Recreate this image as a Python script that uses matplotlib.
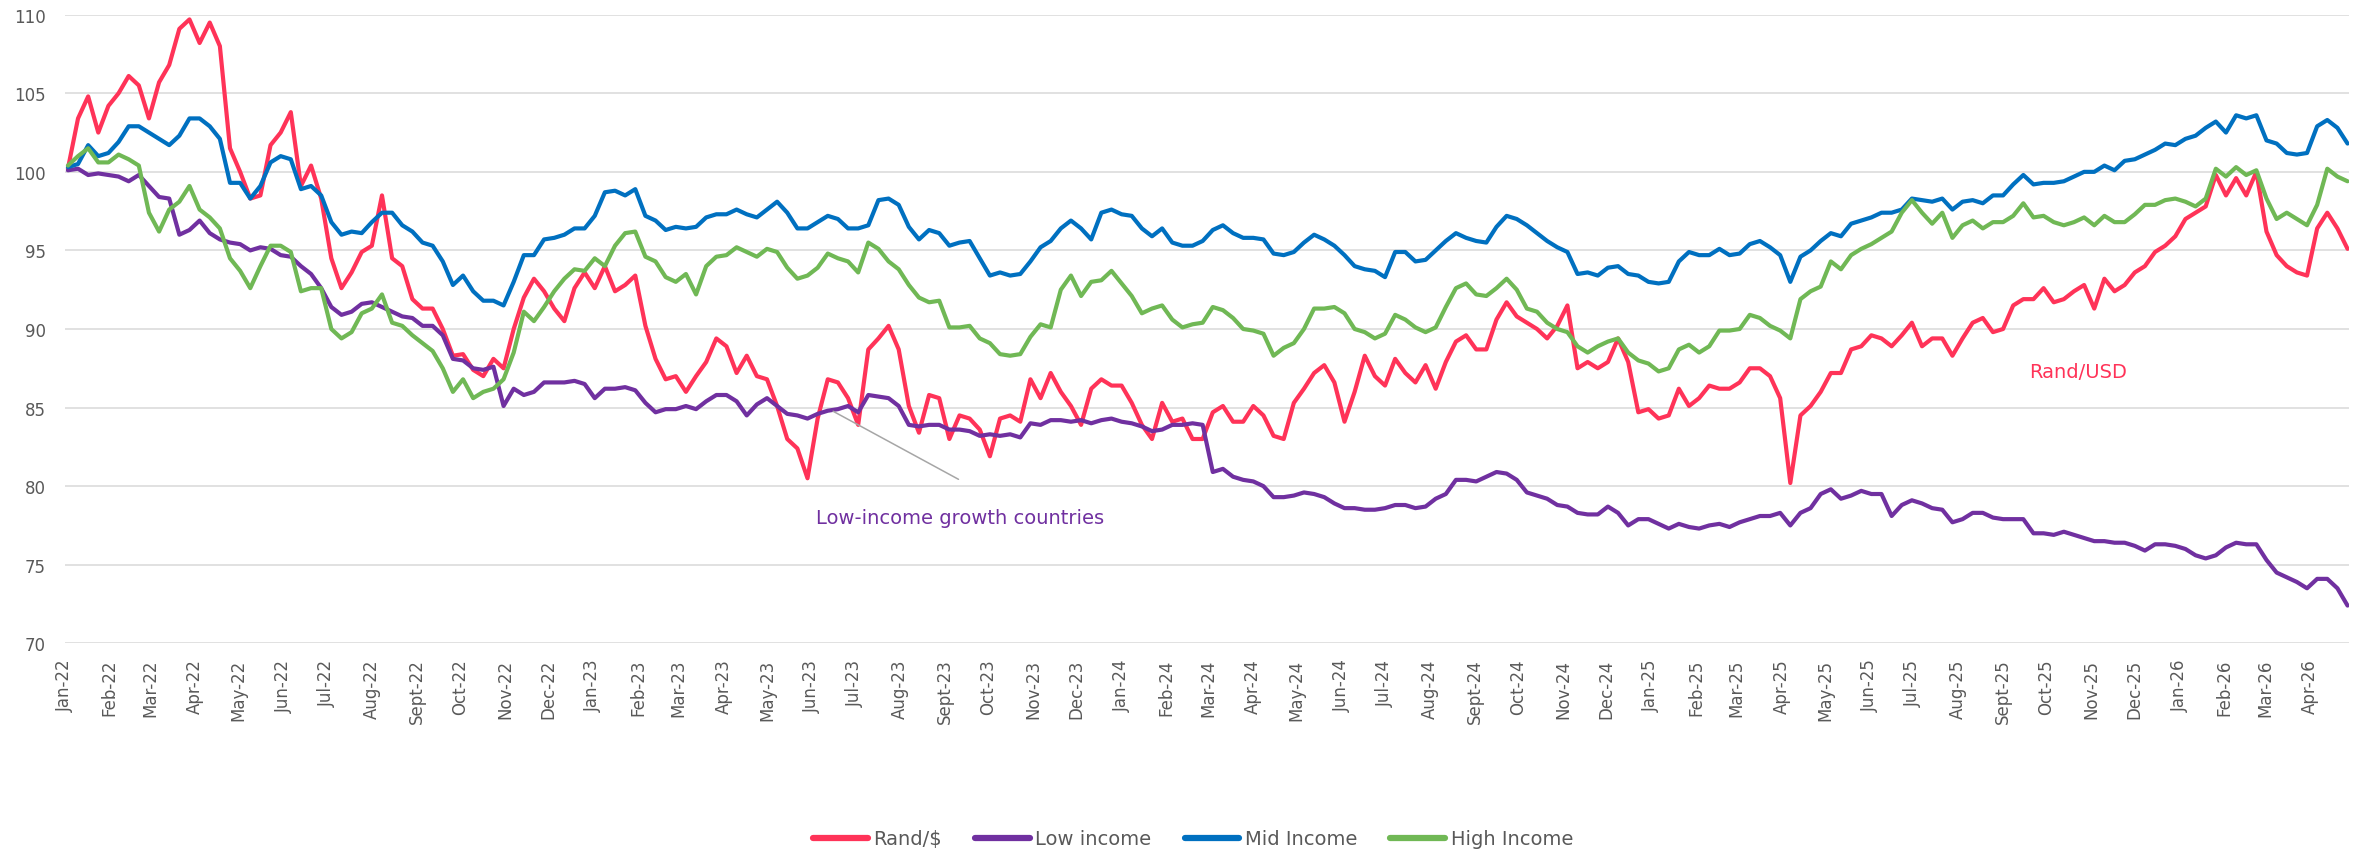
import matplotlib
matplotlib.use("Agg")
import matplotlib.pyplot as plt
import pandas as pd

# Weekly observations (Mondays), index values
weeks = pd.date_range("2022-01-03", periods=226, freq="7D")

rand_usd = [
    100.2, 103.4, 104.8, 102.5, 104.2, 105.0, 106.1, 105.5, 103.4, 105.7,
    106.8, 109.1, 109.7, 108.2, 109.5, 108.0, 101.5, 100.0, 98.3, 98.5,
    101.7, 102.5, 103.8, 99.1, 100.4, 98.3, 94.5, 92.6, 93.6, 94.9,
    95.3, 98.5, 94.5, 94.0, 91.9, 91.3, 91.3, 90.0, 88.3, 88.4,
    87.4, 87.0, 88.1, 87.5, 90.0, 92.0, 93.2, 92.4, 91.3, 90.5,
    92.6, 93.6, 92.6, 94.0, 92.4, 92.8, 93.4, 90.2, 88.1, 86.8,
    87.0, 86.0, 87.0, 87.9, 89.4, 88.9, 87.2, 88.3, 87.0, 86.8,
    85.1, 83.0, 82.4, 80.5, 84.3, 86.8, 86.6, 85.6, 83.9, 88.7,
    89.4, 90.2, 88.7, 85.1, 83.4, 85.8, 85.6, 83.0, 84.5, 84.3,
    83.6, 81.9, 84.3, 84.5, 84.1, 86.8, 85.6, 87.2, 86.0, 85.1,
    83.9, 86.2, 86.8, 86.4, 86.4, 85.3, 83.9, 83.0, 85.3, 84.1,
    84.3, 83.0, 83.0, 84.7, 85.1, 84.1, 84.1, 85.1, 84.5, 83.2,
    83.0, 85.3, 86.2, 87.2, 87.7, 86.6, 84.1, 86.0, 88.3, 87.0,
    86.4, 88.1, 87.2, 86.6, 87.7, 86.2, 87.9, 89.2, 89.6, 88.7,
    88.7, 90.6, 91.7, 90.8, 90.4, 90.0, 89.4, 90.2, 91.5, 87.5,
    87.9, 87.5, 87.9, 89.4, 87.9, 84.7, 84.9, 84.3, 84.5, 86.2,
    85.1, 85.6, 86.4, 86.2, 86.2, 86.6, 87.5, 87.5, 87.0, 85.6,
    80.2, 84.5, 85.1, 86.0, 87.2, 87.2, 88.7, 88.9, 89.6, 89.4,
    88.9, 89.6, 90.4, 88.9, 89.4, 89.4, 88.3, 89.4, 90.4, 90.7,
    89.8, 90.0, 91.5, 91.9, 91.9, 92.6, 91.7, 91.9, 92.4, 92.8,
    91.3, 93.2, 92.4, 92.8, 93.6, 94.0, 94.9, 95.3, 95.9, 97.0,
    97.4, 97.8, 99.8, 98.5, 99.6, 98.5, 100.0, 96.2, 94.7, 94.0,
    93.6, 93.4, 96.4, 97.4, 96.4, 95.1,
]

low_income = [
    100.1, 100.2, 99.8, 99.9, 99.8, 99.7, 99.4, 99.8, 99.1, 98.4,
    98.3, 96.0, 96.3, 96.9, 96.1, 95.7, 95.5, 95.4, 95.0, 95.2,
    95.1, 94.7, 94.6, 94.0, 93.5, 92.6, 91.4, 90.9, 91.1, 91.6,
    91.7, 91.4, 91.1, 90.8, 90.7, 90.2, 90.2, 89.6, 88.1, 88.0,
    87.5, 87.4, 87.6, 85.1, 86.2, 85.8, 86.0, 86.6, 86.6, 86.6,
    86.7, 86.5, 85.6, 86.2, 86.2, 86.3, 86.1, 85.3, 84.7, 84.9,
    84.9, 85.1, 84.9, 85.4, 85.8, 85.8, 85.4, 84.5, 85.2, 85.6,
    85.1, 84.6, 84.5, 84.3, 84.6, 84.8, 84.9, 85.1, 84.7, 85.8,
    85.7, 85.6, 85.1, 83.9, 83.8, 83.9, 83.9, 83.6, 83.6, 83.5,
    83.2, 83.3, 83.2, 83.3, 83.1, 84.0, 83.9, 84.2, 84.2, 84.1,
    84.2, 84.0, 84.2, 84.3, 84.1, 84.0, 83.8, 83.5, 83.6, 83.9,
    83.9, 84.0, 83.9, 80.9, 81.1, 80.6, 80.4, 80.3, 80.0, 79.3,
    79.3, 79.4, 79.6, 79.5, 79.3, 78.9, 78.6, 78.6, 78.5, 78.5,
    78.6, 78.8, 78.8, 78.6, 78.7, 79.2, 79.5, 80.4, 80.4, 80.3,
    80.6, 80.9, 80.8, 80.4, 79.6, 79.4, 79.2, 78.8, 78.7, 78.3,
    78.2, 78.2, 78.7, 78.3, 77.5, 77.9, 77.9, 77.6, 77.3, 77.6,
    77.4, 77.3, 77.5, 77.6, 77.4, 77.7, 77.9, 78.1, 78.1, 78.3,
    77.5, 78.3, 78.6, 79.5, 79.8, 79.2, 79.4, 79.7, 79.5, 79.5,
    78.1, 78.8, 79.1, 78.9, 78.6, 78.5, 77.7, 77.9, 78.3, 78.3,
    78.0, 77.9, 77.9, 77.9, 77.0, 77.0, 76.9, 77.1, 76.9, 76.7,
    76.5, 76.5, 76.4, 76.4, 76.2, 75.9, 76.3, 76.3, 76.2, 76.0,
    75.6, 75.4, 75.6, 76.1, 76.4, 76.3, 76.3, 75.3, 74.5, 74.2,
    73.9, 73.5, 74.1, 74.1, 73.5, 72.4,
]

mid_income = [
    100.3, 100.5, 101.7, 101.0, 101.2, 101.9, 102.9, 102.9, 102.5, 102.1,
    101.7, 102.3, 103.4, 103.4, 102.9, 102.1, 99.3, 99.3, 98.3, 99.1,
    100.6, 101.0, 100.8, 98.9, 99.1, 98.5, 96.8, 96.0, 96.2, 96.1,
    96.8, 97.4, 97.4, 96.6, 96.2, 95.5, 95.3, 94.3, 92.8, 93.4,
    92.4, 91.8, 91.8, 91.5, 93.0, 94.7, 94.7, 95.7, 95.8, 96.0,
    96.4, 96.4, 97.2, 98.7, 98.8, 98.5, 98.9, 97.2, 96.9, 96.3,
    96.5, 96.4, 96.5, 97.1, 97.3, 97.3, 97.6, 97.3, 97.1, 97.6,
    98.1, 97.4, 96.4, 96.4, 96.8, 97.2, 97.0, 96.4, 96.4, 96.6,
    98.2, 98.3, 97.9, 96.5, 95.7, 96.3, 96.1, 95.3, 95.5, 95.6,
    94.5, 93.4, 93.6, 93.4, 93.5, 94.3, 95.2, 95.6, 96.4, 96.9,
    96.4, 95.7, 97.4, 97.6, 97.3, 97.2, 96.4, 95.9, 96.4, 95.5,
    95.3, 95.3, 95.6, 96.3, 96.6, 96.1, 95.8, 95.8, 95.7, 94.8,
    94.7, 94.9, 95.5, 96.0, 95.7, 95.3, 94.7, 94.0, 93.8, 93.7,
    93.3, 94.9, 94.9, 94.3, 94.4, 95.0, 95.6, 96.1, 95.8, 95.6,
    95.5, 96.5, 97.2, 97.0, 96.6, 96.1, 95.6, 95.2, 94.9, 93.5,
    93.6, 93.4, 93.9, 94.0, 93.5, 93.4, 93.0, 92.9, 93.0, 94.3,
    94.9, 94.7, 94.7, 95.1, 94.7, 94.8, 95.4, 95.6, 95.2, 94.7,
    93.0, 94.6, 95.0, 95.6, 96.1, 95.9, 96.7, 96.9, 97.1, 97.4,
    97.4, 97.6, 98.3, 98.2, 98.1, 98.3, 97.6, 98.1, 98.2, 98.0,
    98.5, 98.5, 99.2, 99.8, 99.2, 99.3, 99.3, 99.4, 99.7, 100.0,
    100.0, 100.4, 100.1, 100.7, 100.8, 101.1, 101.4, 101.8, 101.7, 102.1,
    102.3, 102.8, 103.2, 102.5, 103.6, 103.4, 103.6, 102.0, 101.8, 101.2,
    101.1, 101.2, 102.9, 103.3, 102.8, 101.8,
]

high_income = [
    100.4, 101.0, 101.5, 100.6, 100.6, 101.1, 100.8, 100.4, 97.4, 96.2,
    97.6, 98.1, 99.1, 97.6, 97.1, 96.4, 94.5, 93.7, 92.6, 94.0,
    95.3, 95.3, 94.9, 92.4, 92.6, 92.6, 90.0, 89.4, 89.8, 91.0,
    91.3, 92.2, 90.4, 90.2, 89.6, 89.1, 88.6, 87.5, 86.0, 86.8,
    85.6, 86.0, 86.2, 86.8, 88.5, 91.1, 90.5, 91.4, 92.4, 93.2,
    93.8, 93.7, 94.5, 94.0, 95.3, 96.1, 96.2, 94.6, 94.3, 93.3,
    93.0, 93.5, 92.2, 94.0, 94.6, 94.7, 95.2, 94.9, 94.6, 95.1,
    94.9, 93.9, 93.2, 93.4, 93.9, 94.8, 94.5, 94.3, 93.6, 95.5,
    95.1, 94.3, 93.8, 92.8, 92.0, 91.7, 91.8, 90.1, 90.1, 90.2,
    89.4, 89.1, 88.4, 88.3, 88.4, 89.5, 90.3, 90.1, 92.5, 93.4,
    92.1, 93.0, 93.1, 93.7, 92.9, 92.1, 91.0, 91.3, 91.5, 90.6,
    90.1, 90.3, 90.4, 91.4, 91.2, 90.7, 90.0, 89.9, 89.7, 88.3,
    88.8, 89.1, 90.0, 91.3, 91.3, 91.4, 91.0, 90.0, 89.8, 89.4,
    89.7, 90.9, 90.6, 90.1, 89.8, 90.1, 91.4, 92.6, 92.9, 92.2,
    92.1, 92.6, 93.2, 92.5, 91.3, 91.1, 90.4, 90.0, 89.8, 88.9,
    88.5, 88.9, 89.2, 89.4, 88.5, 88.0, 87.8, 87.3, 87.5, 88.7,
    89.0, 88.5, 88.9, 89.9, 89.9, 90.0, 90.9, 90.7, 90.2, 89.9,
    89.4, 91.9, 92.4, 92.7, 94.3, 93.8, 94.7, 95.1, 95.4, 95.8,
    96.2, 97.4, 98.2, 97.4, 96.7, 97.4, 95.8, 96.6, 96.9, 96.4,
    96.8, 96.8, 97.2, 98.0, 97.1, 97.2, 96.8, 96.6, 96.8, 97.1,
    96.6, 97.2, 96.8, 96.8, 97.3, 97.9, 97.9, 98.2, 98.3, 98.1,
    97.8, 98.3, 100.2, 99.7, 100.3, 99.8, 100.1, 98.3, 97.0, 97.4,
    97.0, 96.6, 97.9, 100.2, 99.7, 99.4,
]

series_values = [rand_usd, low_income, mid_income, high_income]
series_names = ["Rand/$", "Low income", "Mid Income", "High Income"]
series_colors = ["#FF3358", "#7030A0", "#0070C0", "#70B855"]

month_starts = pd.date_range("2022-01-01", "2026-04-01", freq="MS")
month_labels = [d.strftime("%b-%y").replace("Sep-", "Sept-") for d in month_starts]

W, H = 2369, 853
fig = plt.figure(figsize=(W / 100, H / 100), dpi=100)
ax = fig.add_axes([65 / W, 1 - 644.3 / H, (2349 - 65) / W, (644.3 - 15.7) / H])

for vals, name, col in zip(series_values, series_names, series_colors):
    ax.plot(weeks, vals, color=col, lw=3.0, label=name,
            solid_joinstyle="round", solid_capstyle="round")

ax.set_ylim(70, 110)
ax.set_yticks(range(70, 111, 5))
ax.set_xlim(pd.Timestamp("2022-01-01"), pd.Timestamp("2026-04-28"))
ax.set_xticks(month_starts)
ax.set_xticklabels(month_labels, rotation=90)

ax.grid(axis="y", color="#D9D9D9", lw=1.1)
ax.grid(axis="x", visible=False)
ax.set_axisbelow(True)
for s in ax.spines.values():
    s.set_visible(False)
ax.tick_params(axis="both", length=0, colors="#595959", labelsize=12)
ax.tick_params(axis="y", pad=14)
ax.tick_params(axis="x", pad=11)

# Call-out for the low-income series
ax.annotate("", xy=(pd.Timestamp("2023-06-14"), 84.85),
            xytext=(pd.Timestamp("2023-09-12"), 80.35),
            arrowprops=dict(arrowstyle="-", color="#A6A6A6", lw=1.1))
ax.text(pd.Timestamp("2023-06-04"), 78.0, "Low-income growth countries",
        color="#7030A0", fontsize=14, ha="left", va="center")
ax.text(pd.Timestamp("2025-09-19"), 87.3, "Rand/USD",
        color="#FF3358", fontsize=14, ha="left", va="center")

leg = fig.legend(loc="center", bbox_to_anchor=(1193 / W, 1 - 840 / H), ncol=4,
                 frameon=False, fontsize=14, handlelength=2.8, handletextpad=0.3,
                 columnspacing=1.7, labelcolor="#595959")
for line in leg.get_lines():
    line.set_linewidth(4.5)
    line.set_solid_capstyle("round")

fig.savefig("out.png", dpi=100)
